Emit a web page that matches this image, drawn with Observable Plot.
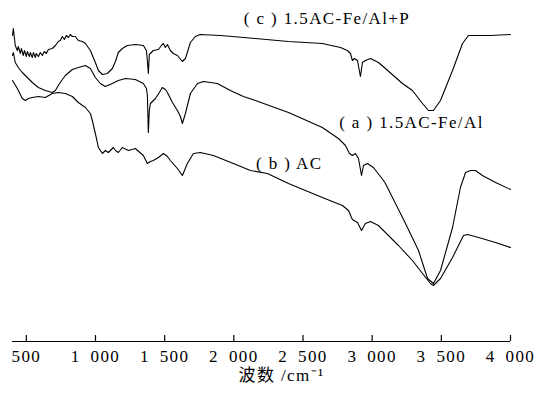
<!DOCTYPE html>
<html><head><meta charset="utf-8">
<script src="https://cdn.jsdelivr.net/npm/d3@7"></script>
<script src="https://cdn.jsdelivr.net/npm/@observablehq/plot@0.6"></script>
<style>
body{margin:0;background:#fff}
svg{display:block}
svg text{letter-spacing:1.4px}
</style>
</head><body><div id="chart"></div>
<script>
// wavenumber (cm^-1) and transmittance (a.u.)
const wnC = [400,406,420,435,442,457,464,478,486,500,507,522,529,543,551,565,572,587,601,616,630,645,659,688,710,731,746,760,775,789,804,818,833,854,876,905,927,963,999,1021,1050,1086,1122,1144,1165,1194,1230,1288,1346,1368,1375,1382,1389,1418,1455,1476,1491,1505,1520,1541,1563,1592,1628,1650,1686,1722,1758,1903,2156,2395,2640,2771,2821,2843,2857,2872,2894,2915,2930,2951,2988,3045,3096,3219,3291,3364,3407,3443,3494,3581,3653,3696,3855,4000];
const tC  = [306,313,296,291,295,288,293,286,291,285,290,285,289,284,289,284,288,285,289,286,290,288,292,293,296,300,301,305,302,306,304,307,305,305,301,300,298,291,279,271,267,268,273,280,289,293,296,297,296,291,281,268,287,291,292,296,298,294,297,291,288,286,280,283,299,305,307,306,303,300,298,294,291,288,281,283,281,265,279,281,283,279,273,258,251,238,231,231,241,271,298,306,306,307];

const wnA = [400,406,420,442,471,493,543,587,637,688,710,731,760,782,833,876,927,963,999,1035,1071,1122,1165,1216,1288,1346,1368,1375,1382,1389,1397,1433,1462,1483,1505,1520,1556,1592,1614,1628,1650,1686,1737,1780,1881,1975,2069,2156,2395,2640,2756,2807,2836,2857,2879,2901,2923,2937,2966,3009,3082,3096,3241,3335,3400,3443,3494,3581,3638,3675,3711,3747,3797,3892,4000];
const tA  = [286,289,279,274,269,266,259,254,251,249,251,256,262,266,272,274,276,273,264,258,255,258,261,263,262,258,253,246,209,231,238,243,249,254,252,249,239,231,225,218,228,248,258,260,258,251,245,241,229,214,203,196,188,186,188,183,166,176,178,174,161,158,118,91,63,58,71,114,154,169,171,171,166,159,152];

const wnB = [400,435,471,493,514,543,587,637,688,731,782,833,876,927,963,977,999,1021,1050,1071,1093,1129,1144,1165,1194,1238,1288,1346,1375,1397,1418,1455,1491,1520,1541,1592,1628,1664,1708,1758,1852,1997,2120,2243,2395,2640,2785,2829,2857,2894,2923,2951,2988,3045,3096,3190,3291,3364,3421,3443,3494,3581,3660,3689,3769,3892,4000];
const tB  = [261,253,243,241,243,244,245,244,248,249,248,245,239,234,228,221,208,194,188,191,189,194,191,189,194,191,193,186,178,180,181,184,188,185,181,173,166,178,188,189,186,178,171,168,158,144,136,131,122,119,111,118,120,116,109,96,81,68,58,56,63,84,106,107,104,99,94];

const xTicks = [500,1000,1500,2000,2500,3000,3500,4000];
const labelText = ["( c ) 1.5AC-Fe/Al+P", "( a ) 1.5AC-Fe/Al", "( b ) AC"];
const labelWn = [2673, 3284, 2400];
const labelT = [323, 219, 178];
const xLabel = "波数 /cm⁻¹";

const rows = [];
[["c", wnC, tC], ["a", wnA, tA], ["b", wnB, tB]].forEach(([s, w, t]) => {
  w.forEach((v, i) => rows.push({series: s, wn: v, t: t[i]}));
});
const labelRows = labelText.map((s, i) => ({text: s, wn: labelWn[i], t: labelT[i]}));

const fmt = d => d < 1000 ? String(d) : `${Math.floor(d / 1000)}\u2002${String(d % 1000).padStart(3, "0")}`;

const chart = Plot.plot({
  width: 538,
  height: 395,
  marginLeft: 12,
  marginRight: 28,
  marginTop: 0,
  marginBottom: 54,
  x: {domain: [400, 4000]},
  y: {domain: [0, 341], axis: null},
  style: {fontFamily: "'Liberation Serif', 'Noto Sans CJK SC', serif", fontSize: "17px", color: "black", background: "white"},
  marks: [
    Plot.ruleY([0], {stroke: "black", strokeWidth: 1.2}),
    Plot.axisX({ticks: xTicks, tickSize: 0, tickPadding: 8, tickFormat: fmt, label: null, fontSize: 17}),
    Plot.tickX(xTicks, {x: d => d, stroke: "black", strokeWidth: 1.2, insetTop: 335}),
    Plot.line(rows, {x: "wn", y: "t", z: "series", stroke: "black", strokeWidth: 1.1}),
    Plot.text(labelRows, {x: "wn", y: "t", text: "text", textAnchor: "middle", fontSize: 17}),
    Plot.text([xLabel], {frameAnchor: "bottom", dx: 20, dy: 39, fontSize: 17})
  ]
});
document.getElementById("chart").append(chart);
</script>
</body></html>
